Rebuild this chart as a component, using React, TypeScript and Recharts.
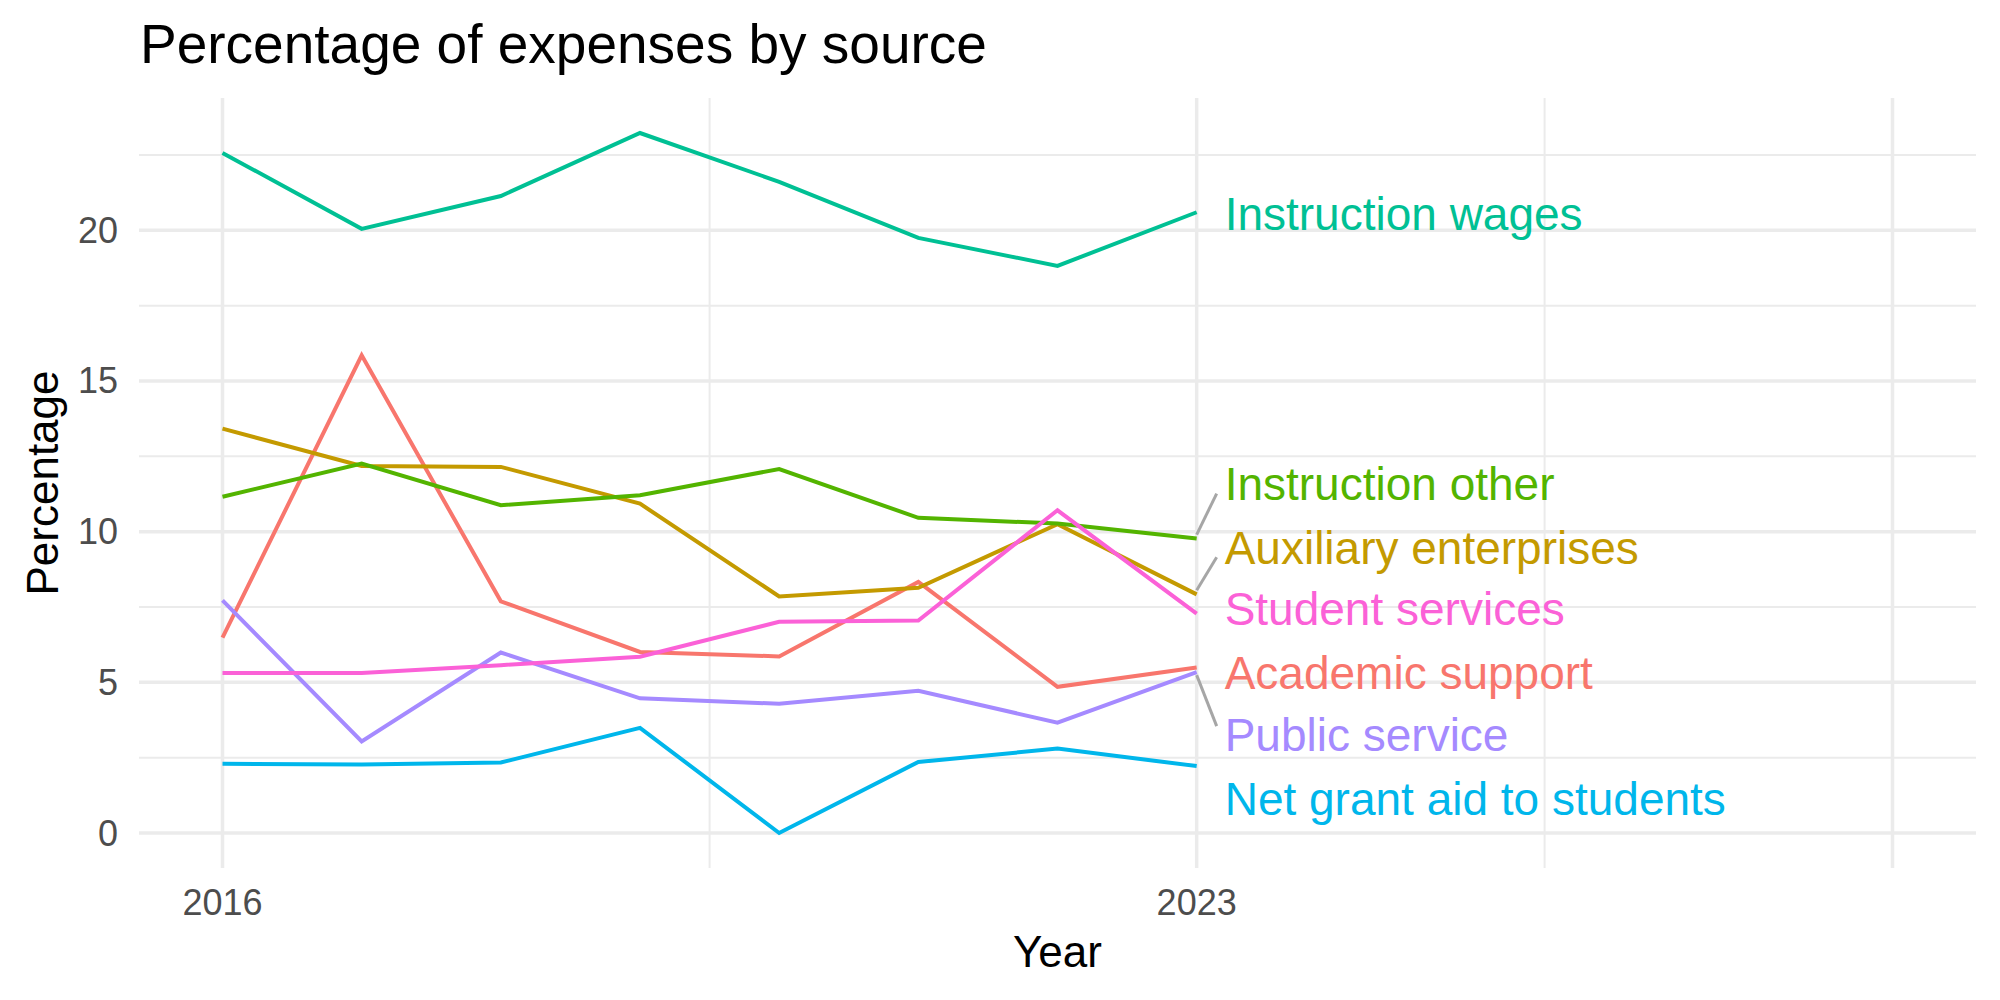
import React from 'react';
import { LineChart, Line, XAxis, YAxis, ReferenceLine, LabelList } from 'recharts';

// Share of expenses by source, 2016–2023 (percent)
const years = [2016, 2017, 2018, 2019, 2020, 2021, 2022, 2023];
const academicSupport = [6.48, 15.85, 7.69, 6.01, 5.86, 8.33, 4.85, 5.49];
const auxiliaryEnterprises = [13.42, 12.18, 12.15, 10.93, 7.85, 8.14, 10.25, 7.92];
const instructionOther = [11.16, 12.26, 10.88, 11.21, 12.08, 10.46, 10.27, 9.77];
const instructionWages = [22.57, 20.05, 21.14, 23.23, 21.61, 19.75, 18.82, 20.6];
const netGrantAid = [2.3, 2.27, 2.34, 3.49, 0.0, 2.36, 2.8, 2.22];
const publicService = [7.72, 3.04, 5.99, 4.47, 4.29, 4.72, 3.66, 5.34];
const studentServices = [5.31, 5.31, 5.57, 5.85, 7.01, 7.05, 10.71, 7.28];

// Axis breaks
const xTicks = [2016, 2023];
const xMajorGrid = [2016, 2023, 2028];
const xMinorGrid = [2019.5, 2025.5];
const yTicks = [0, 5, 10, 15, 20];
const yMinorGrid = [2.5, 7.5, 12.5, 17.5, 22.5];

const FONT = '"Liberation Sans", Arial, Helvetica, sans-serif';
const GRID = '#EBEBEB';
const W = 2000;
const H = 1000;
const PLOT_TOP = 98;
const PLOT_LEFT = 139;
const PLOT_RIGHT = 1976;
const PLOT_BOTTOM = 868;
const LABEL_SIZE = 46;

// x scale expanded 5% each side over 2016–2028; y over 0–max
const X_DOMAIN: [number, number] = [2015.4, 2028.6];
const yMax = Math.max(...instructionWages);
const Y_DOMAIN: [number, number] = [-0.05 * yMax, yMax * 1.05];

type Series = {
  key: string;
  name: string;
  values: number[];
  color: string;
  labelDy: number; // vertical shift of the end label, px
  segment: boolean;
};

const series: Series[] = [
  { key: 'academic', name: 'Academic support', values: academicSupport, color: '#F8766D', labelDy: 5, segment: false },
  { key: 'auxiliary', name: 'Auxiliary enterprises', values: auxiliaryEnterprises, color: '#C49A00', labelDy: -47, segment: true },
  { key: 'instrOther', name: 'Instruction other', values: instructionOther, color: '#53B400', labelDy: -55, segment: true },
  { key: 'instrWages', name: 'Instruction wages', values: instructionWages, color: '#00C094', labelDy: 1, segment: false },
  { key: 'netGrant', name: 'Net grant aid to students', values: netGrantAid, color: '#00B6EB', labelDy: 32, segment: false },
  { key: 'publicSvc', name: 'Public service', values: publicService, color: '#A58AFF', labelDy: 62, segment: true },
  { key: 'studentSvc', name: 'Student services', values: studentServices, color: '#FB61D7', labelDy: -5, segment: false },
];

const rows = years.map((year, i) => {
  const row: Record<string, number> = { year };
  series.forEach((s) => {
    row[s.key] = s.values[i];
  });
  return row;
});

const XTick = (props: any) => {
  const { x, payload } = props;
  return (
    <text x={x} y={PLOT_BOTTOM + 47} textAnchor="middle" fontSize={36} fill="#4D4D4D" fontFamily={FONT}>
      {payload.value}
    </text>
  );
};

const YTick = (props: any) => {
  const { y, payload } = props;
  return (
    <text x={PLOT_LEFT - 21} y={y + 12.5} textAnchor="end" fontSize={36} fill="#4D4D4D" fontFamily={FONT}>
      {payload.value}
    </text>
  );
};

const endLabel = (s: Series) => (props: any) => {
  const { x, y, index } = props;
  if (index !== years.length - 1 || x == null || y == null) return null;
  const cy = y + s.labelDy;
  const up = s.labelDy < 0;
  return (
    <g>
      {s.segment && (
        <line
          x1={x}
          y1={y + (up ? -4 : 3)}
          x2={x + 20}
          y2={cy + (up ? 10 : -8)}
          stroke="#A6A6A6"
          strokeWidth={3}
        />
      )}
      <text x={x + 28} y={cy + 16.5} fontSize={LABEL_SIZE} fill={s.color} fontFamily={FONT}>
        {s.name}
      </text>
    </g>
  );
};

export default function App() {
  return (
    <div style={{ position: 'absolute', left: 0, top: 0, width: W, height: H, background: '#fff' }}>
      <LineChart
        width={W}
        height={H}
        data={rows}
        margin={{ top: PLOT_TOP, right: W - PLOT_RIGHT, bottom: 0, left: 0 }}
      >
        <XAxis
          dataKey="year"
          type="number"
          domain={X_DOMAIN}
          ticks={xTicks}
          allowDataOverflow
          axisLine={false}
          tickLine={false}
          height={H - PLOT_BOTTOM}
          tick={<XTick />}
          interval={0}
        />
        <YAxis
          type="number"
          domain={Y_DOMAIN}
          ticks={yTicks}
          allowDataOverflow
          axisLine={false}
          tickLine={false}
          width={PLOT_LEFT}
          tick={<YTick />}
          interval={0}
        />
        {yMinorGrid.map((v) => (
          <ReferenceLine key={`ym${v}`} y={v} stroke={GRID} strokeWidth={2} />
        ))}
        {xMinorGrid.map((v) => (
          <ReferenceLine key={`xm${v}`} x={v} stroke={GRID} strokeWidth={2} />
        ))}
        {yTicks.map((v) => (
          <ReferenceLine key={`yM${v}`} y={v} stroke={GRID} strokeWidth={3.5} />
        ))}
        {xMajorGrid.map((v) => (
          <ReferenceLine key={`xM${v}`} x={v} stroke={GRID} strokeWidth={3.5} />
        ))}
        {series.map((s) => (
          <Line
            key={s.key}
            type="linear"
            dataKey={s.key}
            name={s.name}
            stroke={s.color}
            strokeWidth={4}
            dot={false}
            activeDot={false}
            isAnimationActive={false}
          >
            <LabelList dataKey={s.key} content={endLabel(s)} />
          </Line>
        ))}
      </LineChart>
      <svg
        width={W}
        height={H}
        style={{ position: 'absolute', left: 0, top: 0, pointerEvents: 'none' }}
      >
        <text x={140} y={63} fontSize={55} fill="#000" fontFamily={FONT}>
          Percentage of expenses by source
        </text>
        <text
          x={(PLOT_LEFT + PLOT_RIGHT) / 2}
          y={967}
          fontSize={44}
          textAnchor="middle"
          fill="#000"
          fontFamily={FONT}
        >
          Year
        </text>
        <text
          transform={`translate(58, ${(PLOT_TOP + PLOT_BOTTOM) / 2}) rotate(-90)`}
          fontSize={44}
          textAnchor="middle"
          fill="#000"
          fontFamily={FONT}
        >
          Percentage
        </text>
      </svg>
    </div>
  );
}
